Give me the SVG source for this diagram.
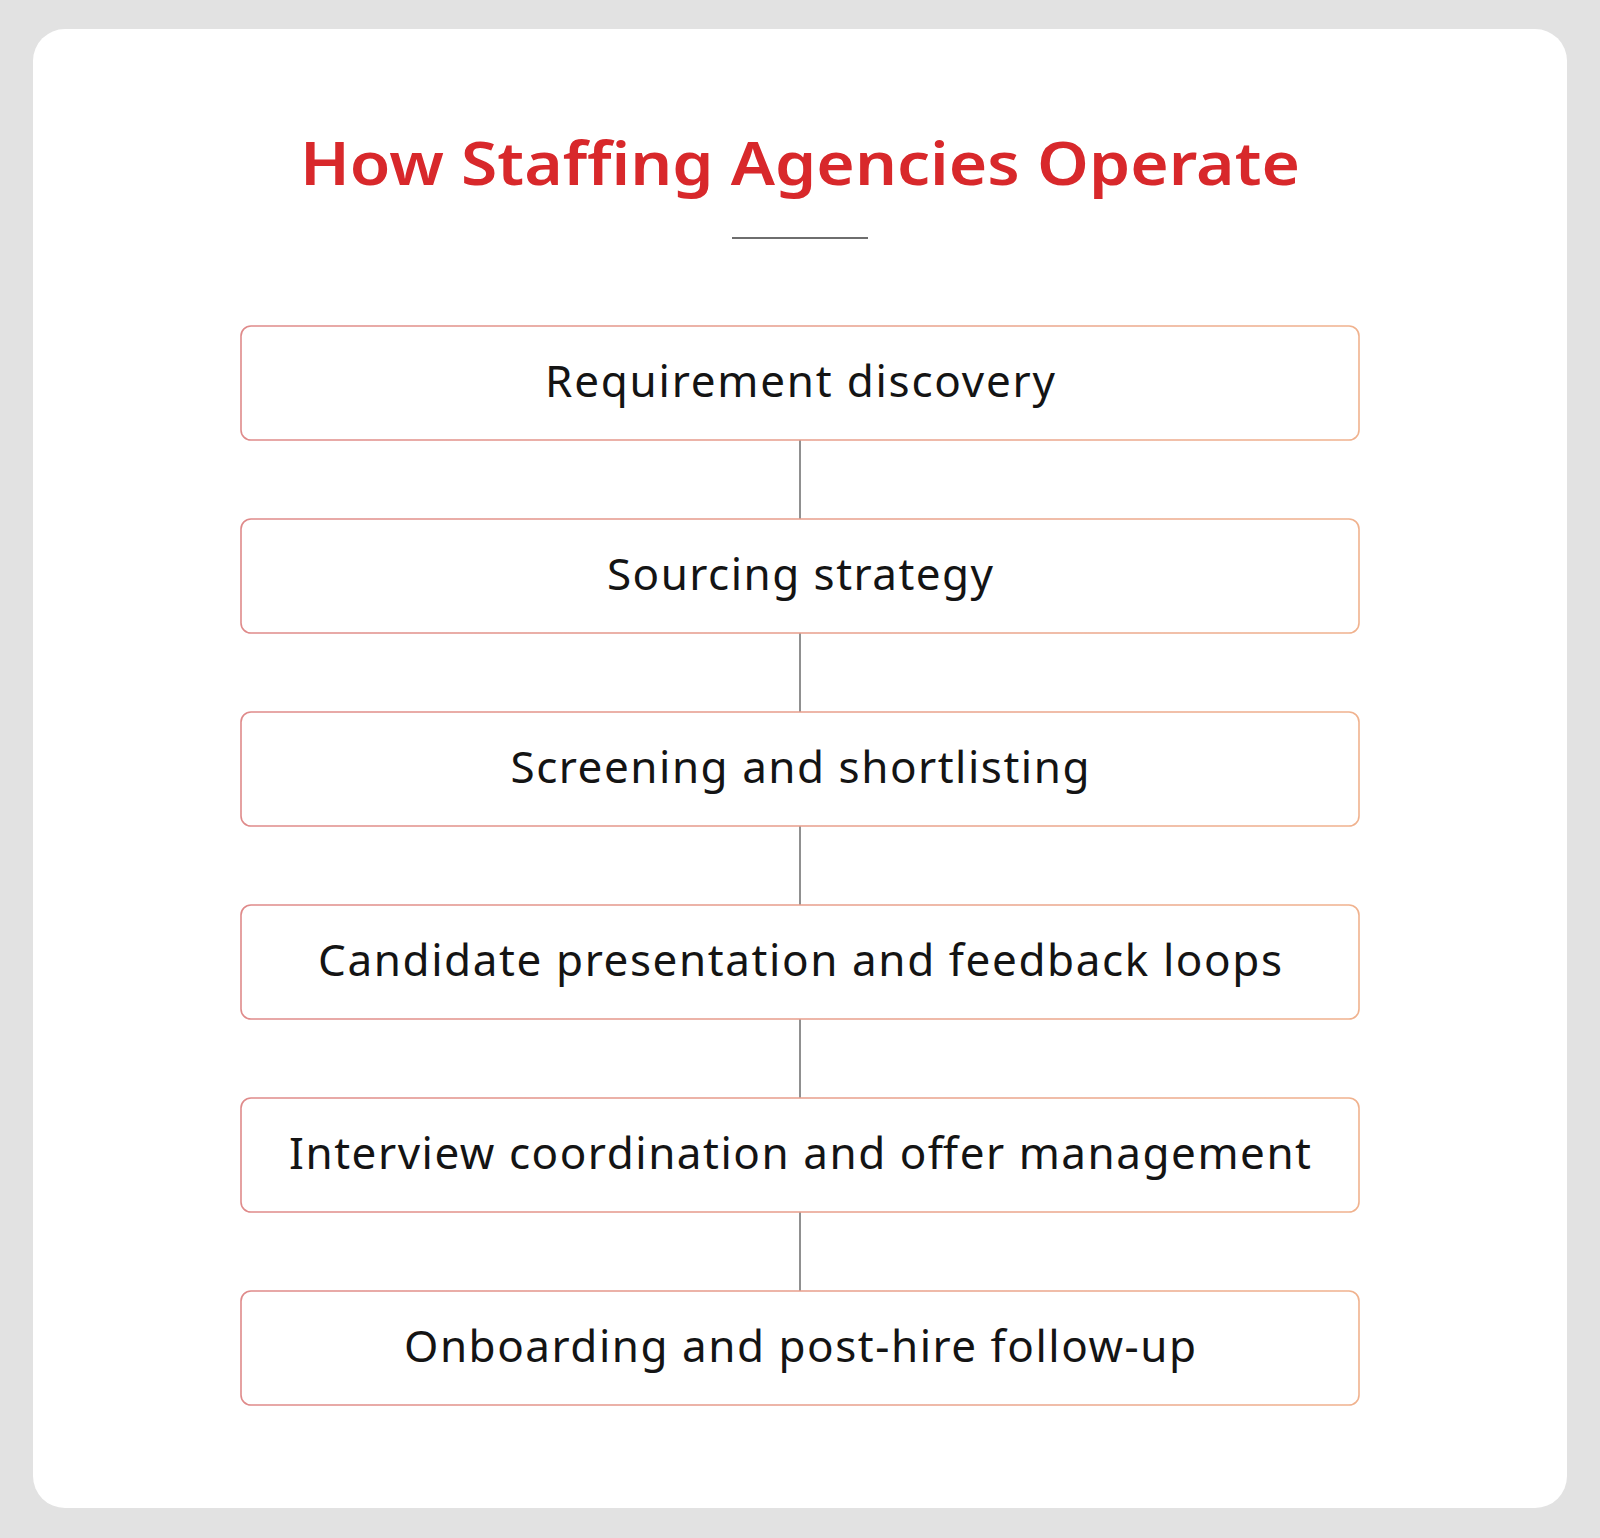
<svg xmlns="http://www.w3.org/2000/svg" width="1600" height="1538" viewBox="0 0 1600 1538">
<defs>
<linearGradient id="bstroke" x1="0" y1="0" x2="1" y2="0">
<stop offset="0" stop-color="#df8a8a"/>
<stop offset="1" stop-color="#f0b28e"/>
</linearGradient>
</defs>
<style>
.box{fill:#ffffff;stroke:url(#bstroke);stroke-width:1.6}
.lbl{font-family:"Noto Sans","Liberation Sans",sans-serif;font-size:44px;fill:#141414;text-anchor:middle}
.conn{stroke:#909090;stroke-width:2}
</style>
<rect x="0" y="0" width="1600" height="1538" fill="#e2e2e2"/>
<rect x="33" y="29" width="1534" height="1479" rx="32" fill="#ffffff"/>
<text x="800" y="185" font-family="'Noto Sans','Liberation Sans',sans-serif" font-weight="600" font-size="60" fill="#d8282b" text-anchor="middle" textLength="1000" lengthAdjust="spacingAndGlyphs">How Staffing Agencies Operate</text>
<line x1="732" y1="238" x2="868" y2="238" stroke="#6e6e6e" stroke-width="2"/>
<g id="connectors">
<line class="conn" x1="800" y1="440" x2="800" y2="519"/>
<line class="conn" x1="800" y1="633" x2="800" y2="712"/>
<line class="conn" x1="800" y1="826" x2="800" y2="905"/>
<line class="conn" x1="800" y1="1019" x2="800" y2="1098"/>
<line class="conn" x1="800" y1="1212" x2="800" y2="1291"/>
</g>
<g id="n1"><rect class="box" x="241" y="326" width="1118" height="114" rx="10"/><text class="lbl" x="800" y="397" textLength="510" lengthAdjust="spacing">Requirement discovery</text></g>
<g id="n2"><rect class="box" x="241" y="519" width="1118" height="114" rx="10"/><text class="lbl" x="800" y="590" textLength="386" lengthAdjust="spacing">Sourcing strategy</text></g>
<g id="n3"><rect class="box" x="241" y="712" width="1118" height="114" rx="10"/><text class="lbl" x="800" y="783" textLength="579" lengthAdjust="spacing">Screening and shortlisting</text></g>
<g id="n4"><rect class="box" x="241" y="905" width="1118" height="114" rx="10"/><text class="lbl" x="800" y="976" textLength="964" lengthAdjust="spacing">Candidate presentation and feedback loops</text></g>
<g id="n5"><rect class="box" x="241" y="1098" width="1118" height="114" rx="10"/><text class="lbl" x="800" y="1169" textLength="1022" lengthAdjust="spacing">Interview coordination and offer management</text></g>
<g id="n6"><rect class="box" x="241" y="1291" width="1118" height="114" rx="10"/><text class="lbl" x="800" y="1362" textLength="792" lengthAdjust="spacing">Onboarding and post-hire follow-up</text></g>
</svg>
